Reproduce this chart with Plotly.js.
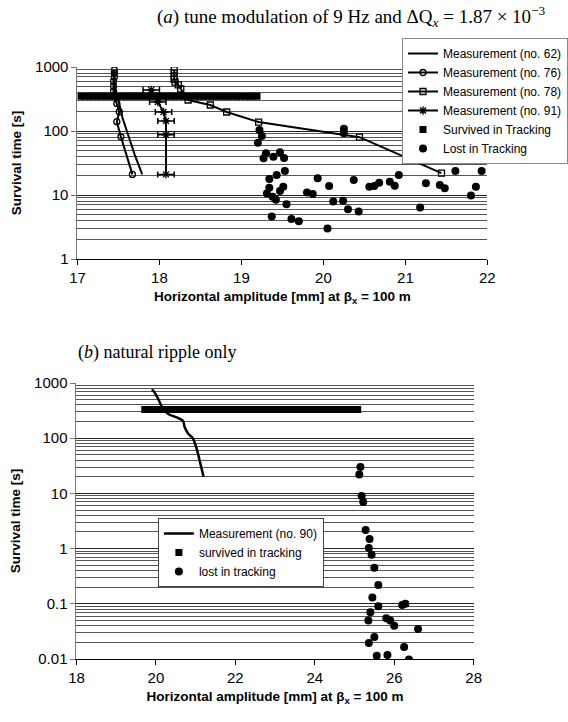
<!DOCTYPE html>
<html><head><meta charset="utf-8">
<script src="https://cdn.plot.ly/plotly-3.0.1.min.js"></script>
<style>html,body{margin:0;padding:0;background:#fff}#chart{width:568px;height:722px}</style>
</head><body><div id="chart"></div>
<script>
// ---------- Panel (a) data ----------
const m62X = [17.45, 17.45, 17.46, 17.50, 17.55, 17.62, 17.70, 17.79];
const m62Y = [900, 600, 420, 300, 160, 85, 42, 21];
const m76X = [17.45, 17.45, 17.45, 17.44, 17.44, 17.44, 17.45, 17.48, 17.51, 17.48, 17.53, 17.67];
const m76Y = [900, 800, 700, 600, 500, 420, 350, 270, 200, 140, 81, 21];
const m78X = [18.18, 18.18, 18.18, 18.18, 18.19, 18.23, 18.26, 18.35, 18.62, 18.82, 19.21, 20.44, 21.44];
const m78Y = [900, 800, 700, 640, 580, 524, 453, 305, 255, 198, 138, 80, 22];
const m91X = [17.90, 17.98, 18.05, 18.08, 18.08, 18.08];
const m91Y = [437, 284, 198, 143, 87, 21];
const m91Err = [0.10, 0.10, 0.10, 0.10, 0.10, 0.10];
const survAX = [17.04, 17.09, 17.14, 17.19, 17.24, 17.29, 17.34, 17.39, 17.44, 17.49, 17.54, 17.59, 17.64, 17.69, 17.74, 17.79, 17.84, 17.89, 17.94, 17.99, 18.04, 18.09, 18.14, 18.19, 18.24, 18.29, 18.34, 18.39, 18.44, 18.49, 18.54, 18.59, 18.64, 18.69, 18.74, 18.79, 18.84, 18.89, 18.94, 18.99, 19.04, 19.09, 19.14, 19.19];
const survAY = [350, 350, 350, 350, 350, 350, 350, 350, 350, 350, 350, 350, 350, 350, 350, 350, 350, 350, 350, 350, 350, 350, 350, 350, 350, 350, 350, 350, 350, 350, 350, 350, 350, 350, 350, 350, 350, 350, 350, 350, 350, 350, 350, 350];
const lostAX = [19.22, 19.25, 19.20, 19.30, 19.27, 19.39, 19.47, 19.52, 19.53, 19.43, 19.34, 19.34, 19.31, 19.38, 19.42, 19.47, 19.51, 19.55, 19.37, 19.61, 19.70, 19.80, 19.87, 19.93, 20.07, 20.12, 20.05, 20.24, 20.30, 20.43, 20.37, 20.25, 20.25, 20.56, 20.62, 20.68, 20.81, 20.87, 20.92, 21.18, 21.25, 21.42, 21.48, 21.61, 21.80, 21.86, 21.93];
const lostAY = [104, 83.5, 65.6, 44.8, 37.4, 39.7, 46.4, 37.9, 23.7, 20.5, 17.8, 13.0, 10.6, 9.4, 8.4, 11.5, 13.5, 7.2, 4.6, 4.2, 3.9, 10.9, 10.4, 18.2, 13.8, 7.9, 3.0, 8.1, 6.0, 5.5, 17.1, 108, 92, 13.5, 13.8, 15.5, 16.1, 14.0, 20.5, 6.4, 15.2, 14.3, 12.7, 23.7, 9.8, 13.5, 23.7];

// ---------- Panel (b) data ----------
const m90X = [19.90, 19.98, 20.07, 20.17, 20.31, 20.52, 20.68, 20.72, 20.81, 20.93, 21.01, 21.08, 21.14, 21.20];
const m90Y = [770, 650, 492, 348, 274, 238, 207, 161, 122, 99, 70, 46, 30, 20];
const survBX = [19.72, 19.82, 19.92, 20.02, 20.12, 20.22, 20.32, 20.42, 20.52, 20.62, 20.72, 20.82, 20.92, 21.02, 21.12, 21.22, 21.32, 21.42, 21.52, 21.62, 21.72, 21.82, 21.92, 22.02, 22.12, 22.22, 22.32, 22.42, 22.52, 22.62, 22.72, 22.82, 22.92, 23.02, 23.12, 23.22, 23.32, 23.42, 23.52, 23.62, 23.72, 23.82, 23.92, 24.02, 24.12, 24.22, 24.32, 24.42, 24.52, 24.62, 24.72, 24.82, 24.92, 25.02, 25.08];
const survBY = [330, 330, 330, 330, 330, 330, 330, 330, 330, 330, 330, 330, 330, 330, 330, 330, 330, 330, 330, 330, 330, 330, 330, 330, 330, 330, 330, 330, 330, 330, 330, 330, 330, 330, 330, 330, 330, 330, 330, 330, 330, 330, 330, 330, 330, 330, 330, 330, 330, 330, 330, 330, 330, 330, 330];
const lostBX = [25.15, 25.12, 25.18, 25.22, 25.28, 25.38, 25.36, 25.43, 25.50, 25.60, 25.45, 25.60, 25.40, 25.35, 25.80, 26.20, 26.28, 26.60, 26.00, 25.50, 25.36, 25.56, 25.83, 26.25, 26.37, 25.90];
const lostBY = [30, 22, 9, 7, 2.17, 1.5, 1.03, 0.77, 0.45, 0.22, 0.13, 0.09, 0.07, 0.05, 0.055, 0.095, 0.1, 0.035, 0.04, 0.025, 0.0195, 0.0114, 0.0118, 0.0165, 0.0098, 0.05];

const yTicksA = [1, 10, 100, 1000];
const yTextA = ['1', '10', '100', '1000'];
const yTicksB = [0.01, 0.1, 1, 10, 100, 1000];
const yTextB = ['0.01', '0.1', '1', '10', '100', '1000'];

const SANS = 'Liberation Sans, Arial, sans-serif';
const SERIF = 'Liberation Serif, Times New Roman, serif';

const traces = [
  {x: m62X, y: m62Y, mode: 'lines', name: 'Measurement (no. 62)', line: {color: '#000', width: 2}, xaxis: 'x', yaxis: 'y', legend: 'legend'},
  {x: m76X, y: m76Y, mode: 'lines+markers', name: 'Measurement (no. 76)', line: {color: '#000', width: 2}, marker: {symbol: 'circle-open', size: 6, color: '#000', line: {width: 1.3}}, xaxis: 'x', yaxis: 'y', legend: 'legend'},
  {x: m78X, y: m78Y, mode: 'lines+markers', name: 'Measurement (no. 78)', line: {color: '#000', width: 2}, marker: {symbol: 'square-open', size: 6, color: '#000', line: {width: 1.3}}, xaxis: 'x', yaxis: 'y', legend: 'legend'},
  {x: m91X, y: m91Y, mode: 'lines+markers', name: 'Measurement (no. 91)', line: {color: '#000', width: 2}, marker: {symbol: 'asterisk-open', size: 7, color: '#000', line: {width: 1.3, color: '#000'}}, error_x: {type: 'data', array: m91Err, visible: true, color: '#000', thickness: 1.5, width: 3}, xaxis: 'x', yaxis: 'y', legend: 'legend'},
  {x: survAX, y: survAY, mode: 'markers', name: 'Survived in Tracking', marker: {symbol: 'square', size: 7, color: '#000'}, xaxis: 'x', yaxis: 'y', legend: 'legend'},
  {x: lostAX, y: lostAY, mode: 'markers', name: 'Lost in Tracking', marker: {symbol: 'circle', size: 8, color: '#000'}, xaxis: 'x', yaxis: 'y', legend: 'legend'},

  {x: m90X, y: m90Y, mode: 'lines', name: 'Measurement (no. 90)', line: {color: '#000', width: 2.5, shape: 'spline'}, xaxis: 'x2', yaxis: 'y2', legend: 'legend2'},
  {x: survBX, y: survBY, mode: 'markers', name: 'survived in tracking', marker: {symbol: 'square', size: 7, color: '#000'}, xaxis: 'x2', yaxis: 'y2', legend: 'legend2'},
  {x: lostBX, y: lostBY, mode: 'markers', name: 'lost in tracking', marker: {symbol: 'circle', size: 8, color: '#000'}, xaxis: 'x2', yaxis: 'y2', legend: 'legend2'}
];

const xCommon = {
  showline: true, linecolor: '#000', linewidth: 1, ticks: 'outside', ticklen: 5, tickcolor: '#000',
  showgrid: false, zeroline: false, dtick: 1,
  tickfont: {family: SANS, size: 15, color: '#000'}
};
const yCommon = {
  type: 'log', showline: true, linecolor: '#777', linewidth: 1, ticks: 'outside', ticklen: 5, tickcolor: '#777',
  showgrid: true, gridcolor: '#222', gridwidth: 1, zeroline: false,
  minor: {showgrid: true, dtick: 'D1', gridcolor: '#555', gridwidth: 1, ticks: ''},
  tickfont: {family: SANS, size: 15, color: '#000'}
};

const layout = {
  width: 568, height: 722,
  margin: {l: 0, r: 0, t: 0, b: 0},
  paper_bgcolor: '#fff', plot_bgcolor: '#fff',
  showlegend: true,
  xaxis: Object.assign({}, xCommon, {domain: [79/568, 497/568], range: [17, 22], anchor: 'y',
    title: {text: '<b>Horizontal amplitude [mm] at β<sub>x</sub> = 100 m</b>', font: {family: SANS, size: 13.5, color: '#000'}, standoff: 6}}),
  yaxis: Object.assign({}, yCommon, {domain: [1 - 259/722, 1 - 67/722], range: [0, 3], anchor: 'x',
    tickvals: yTicksA, ticktext: yTextA,
    title: {text: '<b>Survival time [s]</b>', font: {family: SANS, size: 13.5, color: '#000'}, standoff: 10}}),
  xaxis2: Object.assign({}, xCommon, {domain: [78/568, 483/568], range: [18, 28], dtick: 2, anchor: 'y2',
    title: {text: '<b>Horizontal amplitude [mm] at β<sub>x</sub> = 100 m</b>', font: {family: SANS, size: 13.5, color: '#000'}, standoff: 6}}),
  yaxis2: Object.assign({}, yCommon, {domain: [1 - 659/722, 1 - 383/722], range: [-2, 3], anchor: 'x2',
    tickvals: yTicksB, ticktext: yTextB,
    title: {text: '<b>Survival time [s]</b>', font: {family: SANS, size: 13.5, color: '#000'}, standoff: 10}}),
  legend: {x: 410/568, y: 1 - 38/722, xanchor: 'left', yanchor: 'top', bgcolor: '#fff', bordercolor: '#888', borderwidth: 1,
    font: {family: SANS, size: 12, color: '#000'}, tracegroupgap: 0, itemwidth: 30},
  legend2: {x: 161/568, y: 1 - 518/722, xanchor: 'left', yanchor: 'top', bgcolor: '#fff', bordercolor: '#444', borderwidth: 1,
    font: {family: SANS, size: 12, color: '#000'}, tracegroupgap: 0, itemwidth: 30},
  annotations: [
    {text: '(<i>a</i>) tune modulation of 9 Hz and ΔQ<sub><i>x</i></sub> = 1.87 × 10<sup>−3</sup>', xref: 'paper', yref: 'paper',
      x: 358/568, y: 1 - 16/722, xanchor: 'center', yanchor: 'middle', showarrow: false, font: {family: SERIF, size: 19, color: '#000'}},
    {text: '(<i>b</i>) natural ripple only', xref: 'paper', yref: 'paper',
      x: 77/568, y: 1 - 352/722, xanchor: 'left', yanchor: 'middle', showarrow: false, font: {family: SERIF, size: 18, color: '#000'}}
  ]
};

Plotly.newPlot('chart', traces, layout, {displayModeBar: false, staticPlot: true});
</script>
</body></html>
